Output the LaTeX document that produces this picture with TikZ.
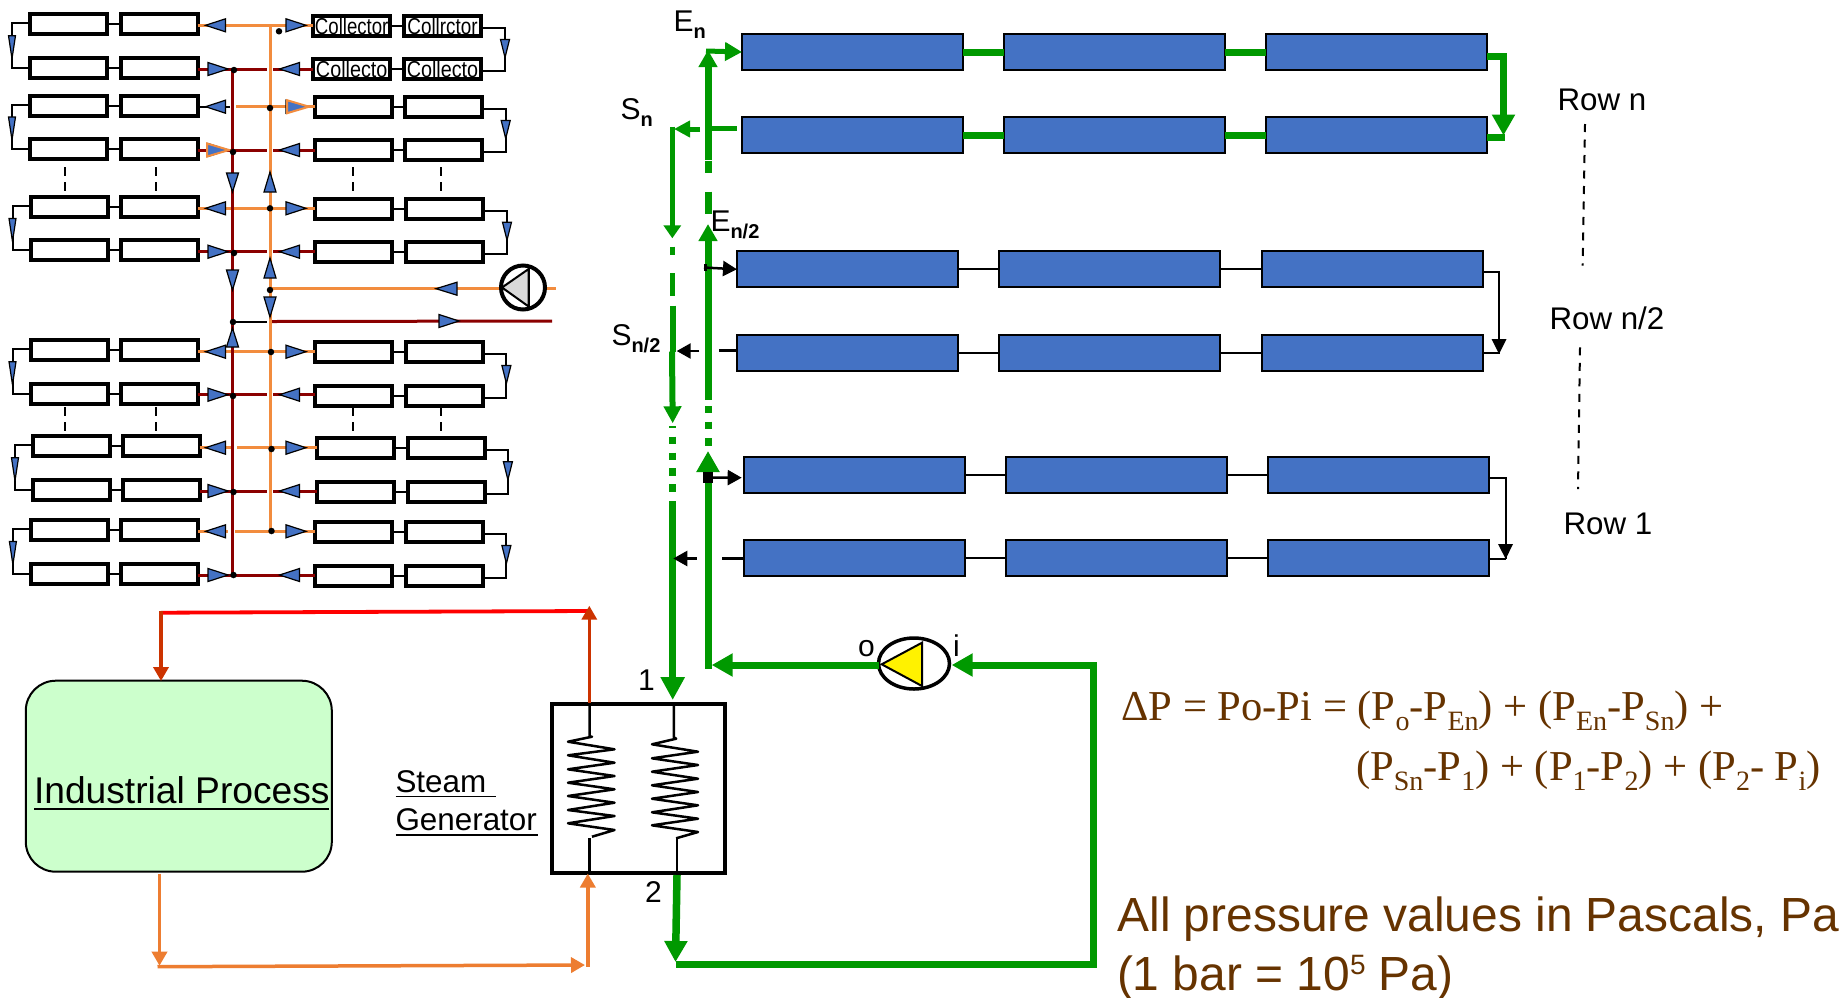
\documentclass[tikz,border=0pt]{standalone}
\usepackage{fontspec}
\setmainfont{Liberation Sans}
\newfontfamily\eqfont{Liberation Serif}
\usetikzlibrary{arrows.meta,shapes.geometric,calc}
\definecolor{gg}{HTML}{009900}
\definecolor{bl}{HTML}{4472C4}
\definecolor{oo}{HTML}{ED7D31}
\definecolor{op}{HTML}{F28C3E}
\definecolor{dr}{HTML}{8B0000}
\definecolor{rs}{HTML}{CC3300}
\definecolor{br}{HTML}{663300}
\definecolor{procg}{HTML}{CCFFCC}
\newcommand{\fs}[1]{\fontsize{#1}{#1}\selectfont}
\newcommand{\lsub}[1]{\raisebox{-7pt}{\fs{20}\bfseries #1}}
\newcommand{\esub}[1]{\raisebox{-9.5pt}{\fs{28}#1}}
\newcommand{\colltxt}[2]{\smash{\raisebox{-8.5pt}{\fs{23}\scalebox{#2}[1]{#1}}}}
% triangle: tip x, tip y, angle (0 right, 90 up), length, half width
\newcommand{\tri}[5]{\draw[tribox,shift={(#1,#2)},rotate=#3] (0,0) -- (-#4,#5) -- (-#4,-#5) -- cycle;}
\tikzset{
  cellbox/.style={draw=black,fill=white,line width=4pt,minimum width=77pt,minimum height=20pt,inner sep=0pt,outer sep=0pt},
  tube/.style={draw=black,fill=bl,line width=2pt,minimum width=221pt,minimum height=36pt,inner sep=0pt,outer sep=0pt},
  txt/.style={anchor=base west,inner sep=0pt,outer sep=0pt},
  tribox/.style={draw=black,fill=bl,line width=1.2pt,line join=miter},
  link/.style={draw=black,line width=2pt},
  thinlink/.style={draw=black,line width=2pt},
  thicklink/.style={draw=gg,line width=7pt},
  gline/.style={draw=gg,line width=7pt},
  gthin/.style={draw=gg,line width=5pt},
  ghead/.style={-{Triangle[length=21pt,width=22pt]}},
  ghead2/.style={-{Triangle[length=17pt,width=17pt]}},
  khead/.style={-{Triangle[length=14pt,width=15pt]}},
  ored/.style={draw=rs,line width=3.5pt,-{Triangle[length=14pt,width=15pt]}},
  ooo/.style={draw=oo,line width=3.5pt,-{Triangle[length=14pt,width=15pt]}},
  sup/.style={draw=op,line width=3pt},
  ret/.style={draw=dr,line width=3pt},
  dotn/.style={circle,fill=black,inner sep=0pt,outer sep=0pt,minimum size=6.5pt},
  vdash/.style={draw=black,line width=2pt},
  rdash/.style={draw=black,line width=2pt,dash pattern=on 8pt off 7.5pt},
  coil/.style={draw=black,line width=2.5pt,line join=round},
}
\begin{document}
\begin{tikzpicture}[x=1pt,y=-1pt]
\useasboundingbox (0,0) rectangle (1844,997);
\fill[white] (0,0) rectangle (1844,997);

% ---------- collector field: cells
\foreach \n/\xa/\xb/\y in {
 1/68.4/159.1/24.2, 2/68.4/159.1/67.7, 3/68.4/159.1/105.5, 4/68.4/159.1/148.5,
 5/69.5/159.8/207, 6/69.5/159.8/250.3, 7/69.5/159.8/350.2, 8/69.5/159.8/393.5,
 9/71/161.2/446.3, 10/71/161.2/489.7, 11/69.5/159.8/530, 12/69.5/159.8/573.5}{
  \node[cellbox] (L\n a) at (\xa,\y) {};
  \node[cellbox] (L\n b) at (\xb,\y) {};
  \draw[link] (L\n a) -- (L\n b);
}
\node[cellbox] (R1a) at (351.7,26) {\colltxt{Collector}{.81}};
\node[cellbox] (R1b) at (442.5,26) {\colltxt{Collrctor}{.82}};
\node[cellbox] (R2a) at (351.7,69.3) {\colltxt{Collecto}{.86}};
\node[cellbox] (R2b) at (442.5,69.3) {\colltxt{Collecto}{.86}};
\foreach \n/\xa/\xb/\y in {
 3/353/443.5/107, 4/353/443.5/150.3,
 5/353.5/444.5/208.7, 6/353.5/444.5/252, 7/353.5/444.5/352, 8/353.5/444.5/395.5,
 9/355.5/446/448.3, 10/355.5/446/491.5, 11/353.5/444.5/532, 12/353.5/444.5/575.7}{
  \node[cellbox] (R\n a) at (\xa,\y) {};
  \node[cellbox] (R\n b) at (\xb,\y) {};
}
\foreach \n in {1,...,12}{ \draw[link] (R\n a) -- (R\n b); }

% pair return loops, left and right
\foreach \u/\v/\lx/\rx/\ly/\ry in {
 1/2/12/505/24.2/26, 3/4/12/505.7/105.5/107, 5/6/12.5/507/207/208.7,
 7/8/12.5/506.4/350.2/352, 9/10/15/507.9/446.3/448.3, 11/12/12.9/506.4/530/532}{
  \draw[link,line join=miter] ($(L\u a.west)+(0,-1)$) -| (\lx,\ly+20) |- (L\v a.west);
  \draw[link,line join=miter] ($(R\u b.east)+(0,2)$) -| (\rx,\ry+20) |- ($(R\v b.east)+(0,2)$);
  \tri{\lx}{\ly+34.5}{270}{23}{3.5}
  \tri{\rx}{\ry+31.5}{270}{18}{4.5}
}

% vertical ellipsis dashes
\foreach \x in {65,156,353,441}{
  \foreach \y in {167,182,407,422}{
    \draw[vdash] (\x,\y) -- (\x,\y+8.5);
  }
}

% named heights of the headers
\coordinate (h1) at (270,25.3);
\coordinate (h2) at (270,69);
\coordinate (h3) at (270,106.7);
\coordinate (h4) at (270,150);
\coordinate (h5) at (270,208.3);
\coordinate (h6) at (270,251.7);
\coordinate (h7) at (270,351.7);
\coordinate (h8) at (270,394.7);
\coordinate (h9) at (270,447.7);
\coordinate (h10) at (270,491);
\coordinate (h11) at (270,531.3);
\coordinate (h12) at (270,575);
\coordinate (hot) at (232.5,69);
\coordinate (hob) at (232.5,575);
\coordinate (cot) at (270,25.3);
\coordinate (cob) at (270,531.3);
\coordinate (pin) at (270,288.7);
\coordinate (rout) at (232.5,322);
\coordinate (rgap) at (267,322);
\coordinate (rgap2) at (272,321.5);
\coordinate (rend) at (552,321);
\coordinate (pend) at (556,288.7);

% supply (orange)
\draw[sup] (L1b.east |- h1) -- (R1a.west |- h1);
\draw[sup] (236,106.7) -- (R3a.west |- h3);
\draw[link] (L3b.east |- h3) -- (230,106.7);
\draw[sup] (L5b.east |- h5) -- (R5a.west |- h5);
\draw[sup] (L7b.east |- h7) -- (R7a.west |- h7);
\draw[sup] (L9b.east |- h9) -- (231,447.7);
\draw[sup] (237,447.7) -- (R9a.west |- h9);
\draw[sup] (L11b.east |- h11) -- (228,531.3);
\draw[sup] (235,531.3) -- (R11a.west |- h11);
\draw[sup] (cot) -- (cob);
\draw[sup] (pin) -- (pend);

% return (dark red)
\foreach \n/\y in {2/69,4/150,6/251.7,8/394.7,10/491}{
  \draw[ret] (L\n b.east |- 0,\y) -- (267,\y);
  \draw[ret] (273,\y) -- (R\n a.west |- 0,\y);
}
\draw[ret] (L12b.east |- h12) -- (R12a.west |- h12);
\draw[ret] (hot) -- (hob);
\draw[link] (rout) -- (rgap);
\draw[ret] (rgap2) -- (rend);

% blue flow triangles on the headers
\foreach \y in {25.3,106.7,208.3,351.7,447.7,531.3}{
  \tri{205.5}{\y}{180}{20}{6.5}
  \tri{306}{\y}{0}{20}{6.5}
}
\foreach \y in {69,150,251.7,394.7,491,575}{
  \tri{228}{\y}{0}{20}{6.5}
  \tri{279.5}{\y}{180}{20}{6.5}
}
\draw[tribox,draw=op,line width=2pt,shift={(309,106.7)}] (0,0) -- (-22,6.5) -- (-22,-6.5) -- cycle;
\draw[tribox,draw=op,line width=2pt,shift={(229,150)}] (0,0) -- (-22,6.5) -- (-22,-6.5) -- cycle;
\tri{232.5}{192}{270}{19}{6}
\tri{270}{172}{90}{20}{6}
\tri{232.5}{290}{270}{20}{6}
\tri{270}{258}{90}{20}{6}
\tri{232.5}{328}{90}{19}{6}
\tri{270}{317}{270}{20}{6}
\tri{436}{288.7}{180}{21}{6.5}
\tri{459}{321}{0}{20}{6.5}

% junction dots
\foreach \n/\x/\y in {a/279/31.3,b/234/70,c/270/108,d/233/152,e/270/208.3,f/234/253,g/270/290,h/233/322,i/271/352,j/233/396,k/271.5/449,l/233.5/492,m/271.5/531,o/233.5/575}{
  \node[dotn] (dot\n) at (\x,\y) {};
}

% circulation pump of the field
\node[circle,draw=black,fill=white,line width=4pt,minimum size=44pt,inner sep=0pt,outer sep=0pt] (pumpA) at (523,287.5) {};
\fill[black!15] (502,287.5) -- (528.6,269) -- (528.6,306.5) -- cycle;
\draw[black,line width=2pt] (502,287.5) -- (528.6,269) -- (528.6,306.5) -- cycle;
\draw[black,line width=2pt] (528.6,266) -- (528.6,309);

% ---------- tubes of the right field
\foreach \n/\a/\b/\c/\y in {A/852.5/1114/1376.5/52, B/852.5/1114/1376.5/135}{
  \node[tube] (\n1) at (\a,\y) {};
  \node[tube] (\n2) at (\b,\y) {};
  \node[tube] (\n3) at (\c,\y) {};
  \draw[thicklink] (\n1) -- (\n2);
  \draw[thicklink] (\n2) -- (\n3);
}
\foreach \n/\a/\b/\c/\y in {C/847.5/1109.3/1372/269.3, D/847.5/1109.3/1372/352.5, E/854.5/1116.4/1378.5/474.7, F/854.5/1116.4/1378.5/558}{
  \node[tube] (\n1) at (\a,\y) {};
  \node[tube] (\n2) at (\b,\y) {};
  \node[tube] (\n3) at (\c,\y) {};
  \draw[thinlink] (\n1) -- (\n2);
  \draw[thinlink] (\n2) -- (\n3);
}
% row end loops
\coordinate (turnN) at (1503.5,55);
\coordinate (turnNb) at (1503.5,135.5);
\draw[gline,line join=miter] ($(A3.east)+(0,4)$) -- (1507,56);
\draw[gline,ghead] (turnN) -- (turnNb);
\draw[gline] (B3.east |- 0,137) -- (1505,137);
\coordinate (turnC) at (1499,272);
\draw[link,line join=miter] ($(C3.east)+(0,3)$) -| (1499,300);
\draw[link] (1499,272) -- (1499,354);
\draw[fill=black,draw=none] (1491.5,339) -- (1506.5,339) -- (1499,354) -- cycle;
\draw[link] (D3.east |- 0,353) -- (1499,353);
\draw[link,line join=miter] ($(E3.east)+(0,3)$) -| (1505.7,559);
\draw[fill=black,draw=none] (1498,544) -- (1513,544) -- (1505.7,559) -- cycle;
\draw[link] (F3.east |- 0,558.5) -- (1505.7,558.5);

% row-side dashed lines
\coordinate (dna) at (1585,124);
\coordinate (dnb) at (1582.7,265.7);
\coordinate (dma) at (1580,347.3);
\coordinate (dmb) at (1578,489);
\draw[rdash] (dna) -- (dnb);
\draw[rdash] (dma) -- (dmb);

% ---------- steam generator
\node[draw=black,fill=white,line width=4pt,minimum width=173pt,minimum height=169pt,inner sep=0pt,outer sep=0pt] (sg) at (638,788.5) {};
\draw[coil] (589.7,704) -- (589.7,736.7) -- (592,736.7) -- (568,741.7) -- (614.5,749.3) -- (568,755.3) -- (614.5,762.7) -- (568,769.3) -- (614.5,776) -- (568,782.7) -- (614.5,789.3) -- (568,796) -- (614.5,802.7) -- (568,810) -- (614.5,816) -- (568,823.3) -- (614.5,830) -- (592,836.7);
\draw[coil] (589.7,838) -- (589.7,873);
\draw[coil] (673.8,704) -- (673.8,737.3) -- (676.1,738.7) -- (652,744.3) -- (698,751.7) -- (652,758.3) -- (698,765) -- (652,771.7) -- (698,778.7) -- (652,785.3) -- (698,792) -- (652,798.7) -- (698,805.3) -- (652,812.3) -- (698,818.7) -- (652,825.3) -- (698,832) -- (676.1,838.3);
\draw[coil] (677,838) -- (677,873);

% process
\node[draw=black,fill=procg,rounded corners=30pt,line width=2pt,minimum width=306pt,minimum height=191pt,inner sep=0pt,outer sep=0pt] (ip) at (178.8,776.2) {};
\node[txt] (iplbl) at (34,803.3) {\fs{37.2}\rlap{\rule[-6.5pt]{295pt}{1.8pt}}Industrial Process};
\node[txt] (sg1) at (395.5,792.3) {\fs{31.4}\rlap{\rule[-5pt]{100pt}{1.8pt}}Steam};
\node[txt] (sg2) at (395.5,830.7) {\fs{31.4}\rlap{\rule[-5pt]{142pt}{1.8pt}}Generator};

% process loop
\coordinate (sgHot) at (589.3,702.5);
\coordinate (cr1) at (589.3,611);
\coordinate (cr2) at (161,612.7);
\coordinate (ipin) at (161,681);
\coordinate (ipout) at (159.5,873.5);
\coordinate (co1) at (159.5,965.7);
\coordinate (co2) at (157.5,966.7);
\coordinate (co3) at (585,965);
\coordinate (co4) at (587.8,965);
\coordinate (sgCold) at (587.8,873.5);
\draw[draw=red,line width=3.8pt] (cr1) -- (cr2);
\draw[ored] (sgHot) -- (589.3,605.7);
\draw[ored] ($(cr2)+(0,-1.9)$) -- (ipin);
\draw[ooo] (ipout) -- (co1);
\draw[ooo] (co2) -- (co3);
\draw[ooo] ($(co4)+(0,1.7)$) -- (sgCold);

% ---------- green main loop
\node[ellipse,draw=black,fill=white,line width=3.5pt,minimum width=71pt,minimum height=51pt,inner sep=0pt,outer sep=0pt] (pumpB) at (914,663.5) {};
\fill[yellow] (881.7,664.3) -- (922,642.7) -- (922,686) -- cycle;
\draw[black,line width=2pt] (881.7,664.3) -- (922,642.7) -- (922,686) -- cycle;
\coordinate (pt) at (708,665);
\coordinate (cT) at (1093.3,665);
\coordinate (cB) at (1093.3,964);
\coordinate (cL) at (675.5,964);
\coordinate (sgOut) at (677,875);
\draw[gline,ghead] (cT) -- (951.7,665);
\draw[gline,line cap=rect] (cB) -- (cT);
\draw[gline] (1096.8,964) -- (cL);
\draw[gline,line width=7.5pt,ghead] (sgOut) -- (cL |- 0,962);
\draw[gline,ghead] (pumpB.west |- pt) -- (711.7,665);
\draw[gline,ghead] (708,668.5) -- (708,451);
\foreach \a/\b in {406/413,421.7/429.3,438.3/445.7}{ \draw[gline] (708,\a) -- (708,\b); }
\draw[gline,-{Triangle[length=17pt,width=18pt]}] (708,400) -- (708,224);
\draw[gline] (708,191.7) -- (708,214.3);
\draw[gline] (708,160.7) -- (708,173.3);
\draw[gline,-{Triangle[length=17pt,width=18pt]}] (708,160) -- (708,50);
\draw[gthin,-{Triangle[length=17pt,width=18pt]}] (706,51) -- (A1.west);
\draw[gthin] (B1.west |- 0,128.3) ++(-5.3,0) -- (711,128.3);
\draw[gthin,-{Triangle[length=16pt,width=16pt]}] (700,129) -- (674,129);
\draw[gthin,-{Triangle[length=13pt,width=17pt]}] (672.3,126.5) -- (672.3,238.3);
\draw[gthin] (672.3,246.7) -- (672.3,255);
\draw[gthin] (672.5,273) -- (672.5,296);
\draw[gthin,line width=6pt] (672.7,305.7) -- (672.7,351.7);
\draw[gthin,line width=6pt,-{Triangle[length=17pt,width=17pt]}] (672,351.7) -- (672.7,423.3);
\foreach \a/\b in {426/427.5,436.7/444,452.7/460,468.3/475.7,484.3/492}{ \draw[gline] (672.7,\a) -- (672.7,\b); }
\draw[gline,-{Triangle[length=23pt,width=23pt]}] (672.7,501.3) -- (672.7,700);

% branch stubs of the middle rows
\draw[link,line width=2.5pt,khead] (704,267.5) -- (C1.west);
\draw[black,line width=2.5pt] (705.5,264) -- (705.5,271);
\draw[link,line width=2.5pt] (D1.west |- 0,350.5) -- (719.3,350.5);
\draw[link,line width=2.5pt,khead] (699.3,351) -- (676.7,351);
\node[fill=black,minimum width=9.4pt,minimum height=10.4pt,inner sep=0pt,outer sep=0pt] (sq) at (708,477.5) {};
\draw[link,line width=2.5pt,khead] (sq.east) -- (741.7,477.7);
\draw[link,line width=2.5pt] (F1.west |- 0,558.3) -- (721.7,558.3);
\draw[link,line width=2.5pt,khead] (696.7,558.5) -- (673.3,558.5);

% ---------- labels
\node[txt] (lEn) at (673.5,31) {\fs{30}E\lsub{n}};
\node[txt] (lSn) at (620.5,119.3) {\fs{30}S\lsub{n}};
\node[txt] (lEm) at (710.5,231.7) {\fs{30}E\lsub{n/2}};
\node[txt] (lSm) at (611.5,345) {\fs{30}S\lsub{n/2}};
\node[txt] (lRn) at (1557.5,110) {\fs{31.3}Row n};
\node[txt] (lRm) at (1549.5,329.3) {\fs{31.3}Row n/2};
\node[txt] (lR1) at (1563.5,534.3) {\fs{31.3}Row 1};
\node[txt] (lo) at (858,656.7) {\fs{30}o};
\node[txt] (li) at (953,656.7) {\fs{30}i};
\node[txt] (l1) at (638,690) {\fs{30}1};
\node[txt] (l2) at (645,902.7) {\fs{30}2};

\node[txt,text=br] (eq1) at (1121.3,720.5) {\eqfont\fs{42.6}ΔP = Po-Pi = (P\esub{o}-P\esub{En}) + (P\esub{En}-P\esub{Sn}) +};
\node[txt,text=br] (eq2) at (1356,780.5) {\eqfont\fs{42.6}(P\esub{Sn}-P\esub{1}) + (P\esub{1}-P\esub{2}) + (P\esub{2}- P\esub{i})};
\node[txt,text=br] (note1) at (1117.5,931.7) {\fs{47.9}All pressure values in Pascals, Pa};
\node[txt,text=br] (note2) at (1117,990) {\fs{47.9}(1 bar = 10\raisebox{16pt}{\fs{28}5} Pa)};
\end{tikzpicture}
\end{document}
